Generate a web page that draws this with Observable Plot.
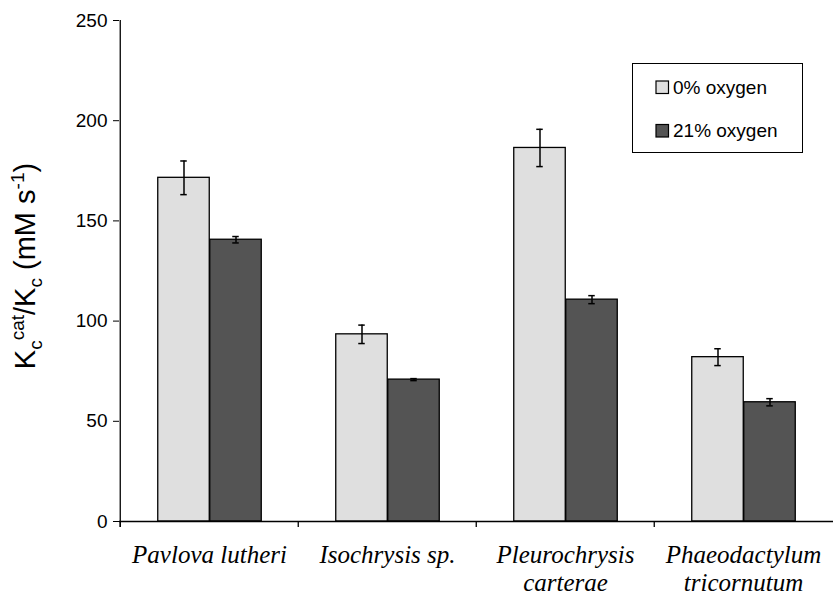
<!DOCTYPE html>
<html>
<head>
<meta charset="utf-8">
<script src="https://cdn.jsdelivr.net/npm/d3@7"></script>
<script src="https://cdn.jsdelivr.net/npm/@observablehq/plot@0.6"></script>
<style>
  html, body { margin: 0; padding: 0; background: #fff; }
  svg { display: block; }
</style>
</head>
<body>
<div id="chart"></div>
<script>
// ---- data ----
const species = ["Pavlova lutheri", "Isochrysis sp.", "Pleurochrysis carterae", "Phaeodactylum tricornutum"];
const speciesLabels = ["Pavlova lutheri", "Isochrysis sp.", "Pleurochrysis\ncarterae", "Phaeodactylum\ntricornutum"];
const seriesNames = ["0% oxygen", "21% oxygen"];
const values0 = [171.5, 93.4, 186.4, 82.0];
const errors0 = [8.4, 4.6, 9.3, 4.2];
const values21 = [140.6, 70.8, 110.7, 59.5];
const errors21 = [1.6, 0.5, 2.0, 1.8];
const yTicks = [0, 50, 100, 150, 200, 250];
const colors = ["#dfdfdf", "#545454"];

// ---- layout ----
const W = 833, H = 597;
const mL = 119, mR = 0, mT = 20, mB = 76;
const band = (W - mL - mR) / species.length;
const barW = 52;
const barInset = (band - barW) / 2;
const capW = 7;
const capInset = (band - capW) / 2;
const offsets = [-barW / 2 + 0.5, barW / 2 + 0.5];

const rows = seriesNames.map((s, k) => species.map((sp, i) => ({
  species: sp,
  series: s,
  value: (k === 0 ? values0 : values21)[i],
  err: (k === 0 ? errors0 : errors21)[i]
})));
const labelRows = species.map((sp, i) => ({species: sp, label: speciesLabels[i]}));

const marks = [];
rows.forEach((data, k) => {
  marks.push(Plot.barY(data, {
    x: "species", y: "value", fill: colors[k], stroke: "#000", strokeWidth: 1.3,
    insetLeft: barInset, insetRight: barInset, dx: offsets[k]
  }));
  marks.push(Plot.ruleX(data, {
    x: "species", y1: d => d.value - d.err, y2: d => d.value + d.err,
    stroke: "#000", strokeWidth: 1.5, dx: offsets[k]
  }));
  marks.push(Plot.tickY(data, {
    x: "species", y: d => d.value + d.err, stroke: "#000", strokeWidth: 1.5,
    insetLeft: capInset, insetRight: capInset, dx: offsets[k]
  }));
  marks.push(Plot.tickY(data, {
    x: "species", y: d => d.value - d.err, stroke: "#000", strokeWidth: 1.5,
    insetLeft: capInset, insetRight: capInset, dx: offsets[k]
  }));
});

// axis lines
marks.push(Plot.ruleY([0], {stroke: "#000", strokeWidth: 1.3}));
marks.push(Plot.ruleX([species[0]], {x: d => d, dx: -band / 2, insetBottom: -6, stroke: "#000", strokeWidth: 1.3}));
marks.push(Plot.ruleX(species, {x: d => d, dx: -band / 2, y1: 0, y2: 0, insetBottom: -6, stroke: "#000", strokeWidth: 1.3}));

// category labels
marks.push(Plot.text(labelRows, {
  x: "species", text: "label", frameAnchor: "bottom", lineAnchor: "top", dy: 22,
  fontSize: 25, fontFamily: "'Liberation Serif', 'Times New Roman', serif", fontStyle: "italic",
  lineHeight: 1.1, fill: "#000"
}));

const svg = Plot.plot({
  width: W, height: H,
  marginLeft: mL, marginRight: mR, marginTop: mT, marginBottom: mB,
  style: {fontFamily: "'Liberation Sans', Arial, sans-serif", fontSize: "19px", background: "#fff", color: "#000"},
  x: {domain: species, padding: 0, axis: null},
  y: {domain: [0, 250], ticks: yTicks, tickSize: 6, tickPadding: 6, label: null, tickFormat: d => String(d)},
  marks
});
document.getElementById("chart").appendChild(svg);

// ---- y-axis title with sub/superscripts ----
const s = d3.select(svg);
const t = s.append("text")
  .attr("transform", "translate(35,266) rotate(-90)")
  .attr("text-anchor", "middle")
  .attr("font-family", "'Liberation Sans', Arial, sans-serif")
  .attr("font-size", 29)
  .attr("fill", "#000");
const parts = [
  ["K", 0], ["c", 1], ["cat", -1], ["/K", 0], ["c", 1], [" (mM s", 0], ["-1", -1], [")", 0]
];
let cur = 0;
parts.forEach(([txt, mode]) => {
  const target = mode === 1 ? 7 : mode === -1 ? -11 : 0;
  t.append("tspan")
    .attr("dy", target - cur)
    .attr("font-size", mode === 0 ? 29 : 19)
    .text(txt);
  cur = target;
});

// ---- legend ----
const lg = s.append("g").attr("text-anchor", "start");
lg.append("rect").attr("x", 632.5).attr("y", 63.5).attr("width", 170).attr("height", 89)
  .attr("fill", "#fff").attr("stroke", "#000").attr("stroke-width", 1);
seriesNames.forEach((name, k) => {
  const yTop = k === 0 ? 81 : 124.5;
  lg.append("rect").attr("x", 656).attr("y", yTop).attr("width", 12.5).attr("height", 12.5)
    .attr("fill", colors[k]).attr("stroke", "#000").attr("stroke-width", 1.2);
  lg.append("text").attr("x", 673).attr("y", yTop + 12.5)
    .attr("text-anchor", "start")
    .attr("font-family", "'Liberation Sans', Arial, sans-serif").attr("font-size", 19)
    .attr("fill", "#000").text(name);
});
</script>
</body>
</html>
